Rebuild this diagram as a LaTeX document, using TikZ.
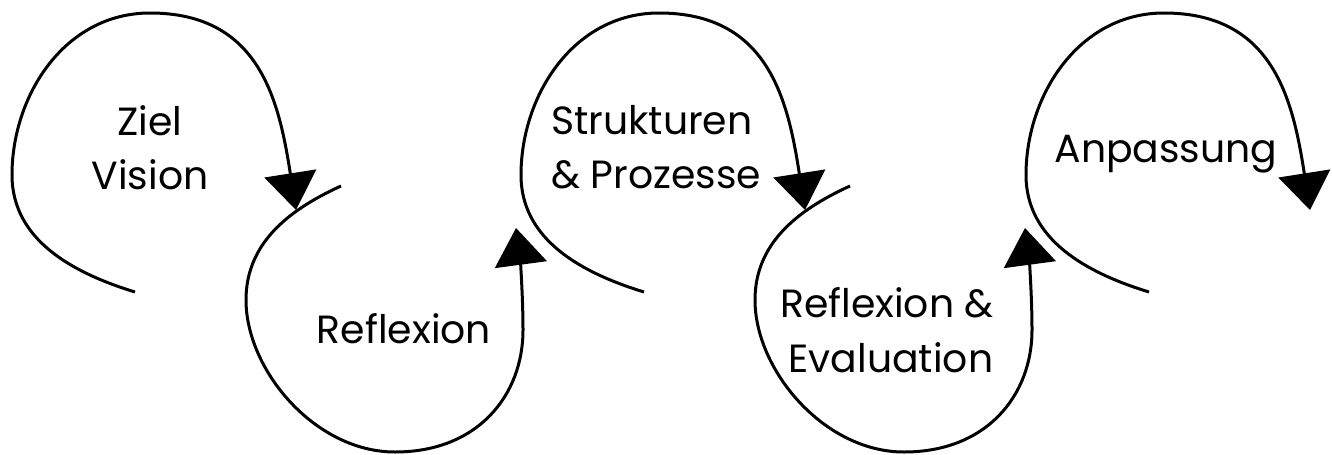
\documentclass[tikz,border=0pt]{standalone}
\usepackage{fontspec}
\setmainfont{Poppins}
\usetikzlibrary{arrows.meta}
\begin{document}
\begin{tikzpicture}[x=0.75pt,y=-0.75pt,
  loopline/.style={draw=black, line width=2.25pt, -{Triangle[length=27.75pt,width=39pt]}},
  lbl/.style={anchor=base, inner sep=0pt, font=\fontsize{29.5}{29.5}\selectfont}]
\useasboundingbox (0,0) rectangle (1332,454);
% top loops
\foreach \dx/\nm in {0/a,509/c,1014/e}{
  \draw[loopline, shift={(\dx,0)}] (135,292) coordinate (\nm s)
    .. controls (73,273) and (12,240) .. (12,175)
    .. controls (12,95) and (65,13) .. (150,13)
    .. controls (260,13) and (279,101) .. (296,210) coordinate (\nm e);
}
% bottom loops
\foreach \dx/\nm in {0/b,509/d}{
  \draw[loopline, shift={(\dx,0)}] (341,186) coordinate (\nm s)
    .. controls (286,211) and (246,245) .. (246,300)
    .. controls (246,370) and (315,452) .. (395,452)
    .. controls (478,452) and (523,395) .. (523,330)
    .. controls (523,295) and (520,258) .. (516,228) coordinate (\nm e);
}
\node[lbl] (ziel) at (150,135) {Ziel};
\node[lbl] (vision) at (150,189) {Vision};
\node[lbl] (refl) at (404,343) {Reflexion};
\node[lbl, anchor=base west] (strukt) at (551,134) {Strukturen};
\node[lbl, anchor=base west] (proz) at (551,188) {\& Prozesse};
\node[lbl] (refl2) at (887,317) {Reflexion \&};
\node[lbl] (eval) at (891,372) {Evaluation};
\node[lbl] (anp) at (1166,162) {Anpassung};
\end{tikzpicture}
\end{document}
